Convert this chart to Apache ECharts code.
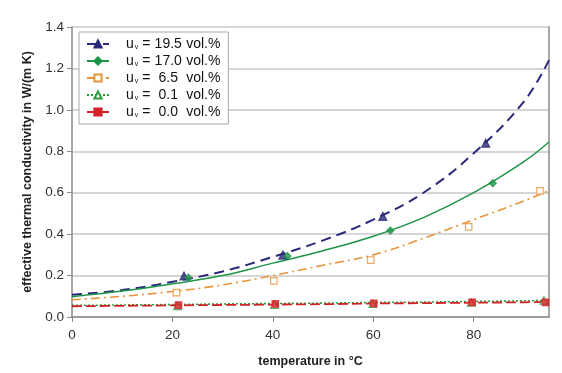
<!DOCTYPE html>
<html><head><meta charset="utf-8">
<script src="https://cdn.jsdelivr.net/npm/echarts@6/dist/echarts.min.js"></script>
<style>html,body{margin:0;padding:0;background:#fff}#c{width:562px;height:373px}</style>
</head><body><div id="c"></div>
<script>
// legend labels (volume fraction u_v)
const seriesNames = ['19.5', '17.0', '6.5', '0.1', '0.0'];
// trend-curve sample temperatures (°C)
const curveT = [0, 10, 20, 30, 40, 50, 60, 70, 80, 90, 95];
// trend-curve values, W/(m K)
const curve195 = [0.107, 0.13, 0.17, 0.22, 0.29, 0.37, 0.47, 0.60, 0.79, 1.04, 1.24];
const curve170 = [0.098, 0.125, 0.16, 0.20, 0.26, 0.32, 0.39, 0.48, 0.60, 0.75, 0.845];
const curve65  = [0.083, 0.10, 0.123, 0.155, 0.20, 0.25, 0.30, 0.38, 0.47, 0.56, 0.61];
const curve01  = [0.056, 0.058, 0.060, 0.063, 0.065, 0.067, 0.070, 0.072, 0.075, 0.078, 0.080];
const curve00  = [0.052, 0.054, 0.056, 0.058, 0.060, 0.062, 0.065, 0.067, 0.069, 0.071, 0.073];
// measured points: temperatures and values
const pts195T = [22.3, 42.0, 61.9, 82.4];
const pts195V = [0.198, 0.299, 0.486, 0.839];
const pts170T = [23.2, 42.9, 63.4, 83.8];
const pts170V = [0.19, 0.294, 0.417, 0.646];
const pts65T  = [20.8, 40.2, 59.5, 79.0, 93.2];
const pts65V  = [0.118, 0.174, 0.275, 0.435, 0.609];
const pts01T  = [21.0, 40.3, 59.9, 79.5, 94.0];
const pts01V  = [0.054, 0.060, 0.064, 0.070, 0.080];
const pts00T  = [21.2, 40.5, 60.1, 79.7, 94.3];
const pts00V  = [0.057, 0.063, 0.066, 0.071, 0.071];
// axis ticks
const xTicks = [0, 20, 40, 60, 80];
const yTicks = [0.0, 0.2, 0.4, 0.6, 0.8, 1.0, 1.2, 1.4];

const zip = (a, b) => a.map((v, i) => [v, b[i]]);
const styles = [
  {color: '#2b2a7a', type: [10, 6], width: 2, symbol: 'triangle', size: 8, fill: '#2b2a7a'},
  {color: '#1e9448', type: 'solid', width: 1.5, symbol: 'diamond', size: 7, fill: '#1e9448'},
  {color: '#e8943a', type: [9, 4, 2, 4], width: 1.6, symbol: 'rect', size: 6.5, fill: '#ffffff'},
  {color: '#2a9a3a', type: [2, 2], width: 1.6, symbol: 'triangle', size: 7.5, fill: '#ffffff'},
  {color: '#d42027', type: [10, 4], width: 1.8, symbol: 'rect', size: 6.5, fill: '#d42027'}
];
const curves = [curve195, curve170, curve65, curve01, curve00];
const pts = [[pts195T, pts195V], [pts170T, pts170V], [pts65T, pts65V], [pts01T, pts01V], [pts00T, pts00V]];

const series = [];
seriesNames.forEach((n, i) => {
  const s = styles[i];
  series.push({
    name: n, type: 'line', smooth: 0.4, data: zip(curveT, curves[i]),
    showSymbol: false, symbol: s.symbol, symbolSize: s.size,
    itemStyle: {color: s.fill, borderColor: s.color, borderWidth: 1.2},
    lineStyle: {color: s.color, type: s.type, width: s.width},
    z: 3, silent: true
  });
});
seriesNames.forEach((n, i) => {
  const s = styles[i];
  series.push({
    name: n, type: 'scatter', data: zip(pts[i][0], pts[i][1]),
    symbol: s.symbol, symbolSize: s.size,
    itemStyle: {color: s.fill, borderColor: s.color, borderWidth: 1.2},
    z: 4
  });
});

const chart = echarts.init(document.getElementById('c'), null, {renderer: 'canvas'});
const fontFamily = 'Liberation Sans, Arial, sans-serif';
chart.setOption({
  animation: false,
  backgroundColor: '#ffffff',
  textStyle: {fontFamily},
  grid: {left: 72, right: 13, top: 27, bottom: 54},
  legend: {
    left: 79, top: 32, orient: 'vertical', itemGap: 3,
    itemWidth: 22, itemHeight: 9,
    backgroundColor: '#ffffff', borderColor: '#a8a8a8', borderWidth: 1,
    padding: [5, 8, 5, 7],
    data: seriesNames,
    formatter: n => '{u|u}{s|v}{t| = }{n|' + n + '}{t| vol.%}',
    textStyle: {
      color: '#111', fontSize: 14, fontFamily,
      rich: {
        u: {fontSize: 14, color: '#111', padding: [0, 0, 0, 12]},
        s: {fontSize: 7, color: '#111', verticalAlign: 'bottom', padding: [7, 0, 0, 1]},
        t: {fontSize: 14, color: '#111'},
        n: {fontSize: 14, color: '#111', width: 28, align: 'right'}
      }
    }
  },
  xAxis: {
    type: 'value', min: 0, max: 95, interval: 20,
    name: 'temperature in °C', nameLocation: 'middle', nameGap: 38,
    nameTextStyle: {fontSize: 12.5, fontWeight: 'bold', color: '#222', fontFamily},
    axisLine: {show: true, lineStyle: {color: '#8a8a8a', width: 1.5}},
    axisTick: {show: true, length: 5, lineStyle: {color: '#8a8a8a'}},
    axisLabel: {fontSize: 13.5, color: '#333', margin: 11, showMaxLabel: false,
      formatter: v => xTicks.includes(v) ? String(v) : ''},
    splitLine: {show: false}
  },
  yAxis: [{
    type: 'value', min: 0, max: 1.4, interval: 0.2,
    name: 'effective thermal conductivity in W/(m K)', nameLocation: 'middle', nameGap: 37,
    nameTextStyle: {fontSize: 12.5, fontWeight: 'bold', color: '#222', fontFamily},
    axisLine: {show: true, lineStyle: {color: '#8a8a8a', width: 1.5}},
    axisTick: {show: true, length: 5, lineStyle: {color: '#8a8a8a'}},
    axisLabel: {fontSize: 13.5, color: '#333', margin: 8,
      formatter: v => yTicks.some(t => Math.abs(t - v) < 1e-9) ? v.toFixed(1) : ''},
    splitLine: {show: true, lineStyle: {color: '#c8c8c8', width: 1.5}}
  }, {
    type: 'value', min: 0, max: 1.4, position: 'right',
    axisLine: {show: true, lineStyle: {color: '#8a8a8a', width: 1.5}},
    axisTick: {show: false}, axisLabel: {show: false}, splitLine: {show: false}
  }],
  series
});
</script></body></html>
